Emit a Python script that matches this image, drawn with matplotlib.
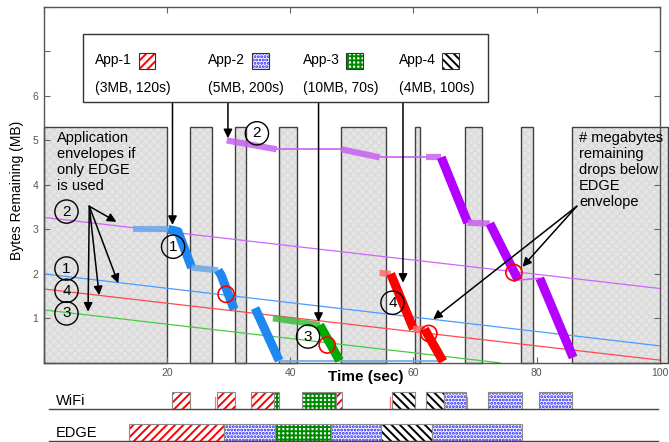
import matplotlib
matplotlib.use('Agg')
import matplotlib.pyplot as plt
import matplotlib.patches as mpatches

plt.rcParams['font.family'] = ['Liberation Sans', 'DejaVu Sans']
plt.rcParams['hatch.linewidth'] = 1.4

# ---- data ----
app_names = ['App-1', 'App-2', 'App-3', 'App-4']
app_sizes = ['(3MB, 120s)', '(5MB, 200s)', '(10MB, 70s)', '(4MB, 100s)']
app_colors = ['#ff0000', '#1a1aff', '#008800', '#000000']
app_hatches = ['////', '.....', '++++', '\\\\\\\\']

# remaining MB over time; kind per segment: w = WiFi burst, e = EDGE trickle, i = idle
app1_t = [14.5, 20.2, 21.8, 24.0, 28.3, 28.8, 30.9, 34.3, 38.2, 64.7]
app1_mb = [3.0, 3.0, 2.95, 2.14, 2.08, 1.97, 1.2, 1.23, 0.05, 0.05]
app1_kind = ['e', 'w', 'w', 'e', 'w', 'w', '', 'w', 'i']

app2_t = [29.7, 37.8, 48.3, 54.5, 62.1, 64.5, 68.8, 72.4, 77.0, 80.5, 85.9]
app2_mb = [5.0, 4.80, 4.80, 4.62, 4.62, 4.62, 3.15, 3.13, 1.86, 1.90, 0.12]
app2_kind = ['e', 'i', 'e', 'i', 'e', 'w', 'e', 'w', 'i', 'w']

app3_t = [37.2, 44.8, 48.0]
app3_mb = [1.0, 0.85, 0.05]
app3_kind = ['e', 'w']

app4_t = [54.5, 56.3, 60.0, 61.8, 64.8]
app4_mb = [2.02, 2.0, 0.76, 0.76, 0.03]
app4_kind = ['e', 'w', 'e', 'w']

# EDGE-only envelopes (start MB at t=0, end MB at env_t1)
env_mb0 = [2.0, 3.27, 1.19, 1.66]
env_mb1 = [0.38, 1.67, 0.0, 0.06]
env_t1 = [100, 100, 74, 100]

# periods without WiFi
gap_start = [0, 23.7, 31.1, 38.2, 48.3, 60.3, 68.4, 77.5, 85.7]
gap_end = [20.0, 27.3, 32.9, 41.1, 55.6, 61.1, 71.1, 79.4, 101.3]
gap_top = 5.3

# points where remaining MB falls below the envelope
drop_t = [29.6, 46.0, 62.5, 76.3]
drop_mb = [1.54, 0.40, 0.66, 2.03]

# numbered tags
tag_t = [3.7, 3.7, 3.7, 3.7, 21.0, 34.6, 42.9, 56.6]
tag_mb = [3.40, 2.12, 1.62, 1.11, 2.61, 5.16, 0.59, 1.35]
tag_txt = ['2', '1', '4', '3', '1', '2', '3', '4']

# schedule on each interface (start, end, app index)
wifi_start = [20.9, 28.2, 33.6, 37.4, 41.9, 47.4, 56.5, 62.0, 64.9, 72.1, 80.3]
wifi_end = [23.8, 31.1, 37.4, 38.2, 47.4, 48.4, 60.3, 64.9, 68.5, 77.6, 85.8]
wifi_app = [0, 0, 0, 2, 2, 0, 3, 3, 1, 1, 1]
wifi_slivers = [27.8, 56.2, 68.7]

edge_start = [13.8, 29.2, 37.5, 46.7, 54.8, 63.0]
edge_end = [29.2, 37.5, 46.7, 54.8, 63.0, 77.6]
edge_app = [0, 1, 2, 1, 3, 1]

trace_dark = ['#1e88f0', '#b400ff', '#00aa00', '#ff0000']
trace_light = ['#6aa8e8', '#c860f0', '#3cbc3c', '#ff6a6a']
env_colors = ['#4a9cff', '#cc66ff', '#44cc44', '#ff4a4a']

fig = plt.figure(figsize=(6.69, 4.42), dpi=100)
ax = fig.add_axes([0.0653, 0.1792, 0.9212, 0.805])
ax.set_xlim(0, 100)
ax.set_ylim(0, 8)

for s, e in zip(gap_start, gap_end):
    ax.add_patch(mpatches.Rectangle((s, 0), e - s, gap_top, facecolor='#e6e6e6',
                                    edgecolor='#dcdcdc', hatch='xxxx', lw=0,
                                    zorder=1, clip_on=False))
    ax.add_patch(mpatches.Rectangle((s, 0), e - s, gap_top, facecolor='none',
                                    edgecolor='#404040', lw=1.0, zorder=1.1,
                                    clip_on=False))

for m0, m1, t1, c in zip(env_mb0, env_mb1, env_t1, env_colors):
    ax.plot([0, t1], [m0, m1], color=c, lw=0.9, zorder=2)


def draw_trace(t, mb, kind, dark, light):
    # group consecutive segments of the same kind so joins look clean
    i = 0
    while i < len(kind):
        j = i
        while j + 1 < len(kind) and kind[j + 1] == kind[i]:
            j += 1
        xs, ys = t[i:j + 2], mb[i:j + 2]
        k = kind[i]
        if k == 'w':
            ax.plot(xs, ys, color=dark, lw=6.5, solid_joinstyle='round',
                    solid_capstyle='butt', zorder=3)
        elif k == 'e':
            ax.plot(xs, ys, color=light, lw=4.5, alpha=0.85,
                    solid_capstyle='butt', zorder=3)
        elif k == 'i':
            ax.plot(xs, ys, color=light, lw=1.2, zorder=3)
        i = j + 1


draw_trace(app1_t, app1_mb, app1_kind, trace_dark[0], trace_light[0])
draw_trace(app2_t, app2_mb, app2_kind, trace_dark[1], trace_light[1])
draw_trace(app3_t, app3_mb, app3_kind, trace_dark[2], trace_light[2])
draw_trace(app4_t, app4_mb, app4_kind, trace_dark[3], trace_light[3])

ax.scatter(drop_t, drop_mb, s=135, facecolor='none', edgecolor='red', lw=1.2, zorder=5)
ax.scatter(tag_t, tag_mb, s=280, facecolor='none', edgecolor='black', lw=1, zorder=5)
for x, y, s in zip(tag_t, tag_mb, tag_txt):
    ax.text(x, y, s, ha='center', va='center', fontsize=11, zorder=6)

# legend box with arrows down to each app's first transfer
ax.add_patch(mpatches.Rectangle((6.4, 5.87), 65.7, 1.53, facecolor='white',
                                edgecolor='#333333', lw=1, zorder=6, clip_on=False))
leg_text_x = [8.3, 26.7, 42.0, 57.6]
for k in range(4):
    x = leg_text_x[k]
    ax.text(x, 6.80, app_names[k], fontsize=10, va='center', zorder=7)
    ax.text(x, 6.18, app_sizes[k], fontsize=10, va='center', zorder=7)
    ax.add_patch(mpatches.Rectangle((x + 7.1, 6.60), 2.7, 0.36, facecolor='white',
                                    edgecolor=app_colors[k], hatch=app_hatches[k],
                                    lw=0, zorder=7))
    ax.add_patch(mpatches.Rectangle((x + 7.1, 6.60), 2.7, 0.36, facecolor='none',
                                    edgecolor='#333333', lw=0.8, zorder=7.1))

leg_arrow_x = [20.9, 29.9, 44.6, 58.3]
leg_arrow_to = [3.1, 5.05, 0.92, 1.8]
for x, y in zip(leg_arrow_x, leg_arrow_to):
    ax.annotate('', xy=(x, y), xytext=(x, 5.87),
                arrowprops=dict(arrowstyle='-|>', color='black', lw=1.1,
                                mutation_scale=13, shrinkA=0, shrinkB=0), zorder=5)

ax.text(2.1, 5.22, 'Application\nenvelopes if\nonly EDGE\nis used', fontsize=10.5,
        va='top', ha='left', linespacing=1.2, zorder=6)
for x, y in [(11.8, 3.17), (12.1, 1.79), (9.0, 1.52), (7.2, 1.15)]:
    ax.annotate('', xy=(x, y), xytext=(7.4, 3.52),
                arrowprops=dict(arrowstyle='-|>', color='black', lw=1.1,
                                mutation_scale=13, shrinkA=0, shrinkB=0), zorder=5)

ax.text(86.9, 5.22, '# megabytes\nremaining\ndrops below\nEDGE\nenvelope', fontsize=10.5,
        va='top', ha='left', linespacing=1.2, zorder=6)
for x, y in [(77.7, 2.16), (63.2, 0.98)]:
    ax.annotate('', xy=(x, y), xytext=(86.5, 3.52),
                arrowprops=dict(arrowstyle='-|>', color='black', lw=1.1,
                                mutation_scale=13, shrinkA=0, shrinkB=0), zorder=5)

ax.set_xticks([0, 20, 40, 60, 80, 100])
ax.set_xticklabels(['', '20', '40', '60', '80', '100'])
ax.set_yticks(range(9))
ax.set_yticklabels(['', '1', '2', '3', '4', '5', '6', '', ''])
ax.tick_params(direction='in', top=True, right=True, length=4, width=0.8,
               labelsize=7.5, colors='#666666', labelcolor='#555555', pad=4)
for sp in ax.spines.values():
    sp.set_color('#555555')
    sp.set_linewidth(1)

ax.text(52.2, -0.33, 'Time (sec)', fontsize=11, fontweight='bold', ha='center', va='center')
fig.text(17 / 669, 1 - 190 / 442, 'Bytes Remaining (MB)', rotation=90,
         ha='center', va='center', fontsize=10)

# interface timelines under the plot
tl = fig.add_axes([0.0653, 0.0, 0.9212, 56 / 442])
tl.set_xlim(0, 100)
tl.set_ylim(0, 56)
tl.axis('off')


def draw_row(starts, ends, apps, y0):
    for s, e, a in zip(starts, ends, apps):
        tl.add_patch(mpatches.Rectangle((s, y0), e - s, 17, facecolor='white',
                                        edgecolor=app_colors[a], hatch=app_hatches[a],
                                        lw=0, clip_on=False))
        tl.add_patch(mpatches.Rectangle((s, y0), e - s, 17, facecolor='none',
                                        edgecolor='#8a8a8a', lw=0.8, clip_on=False))


draw_row(wifi_start, wifi_end, wifi_app, 32.7)
draw_row(edge_start, edge_end, edge_app, 1)
for x in wifi_slivers:
    tl.plot([x, x], [33, 45], color='#ff7070', lw=0.9)

tl.plot([0.86, 99.6], [32.7, 32.7], color='#444444', lw=1, clip_on=False)
tl.plot([0.86, 99.6], [1, 1], color='#444444', lw=1, clip_on=False)
tl.text(2.0, 34.0, 'WiFi', fontsize=10.5, va='bottom', ha='left')
tl.text(2.0, 2.3, 'EDGE', fontsize=10.5, va='bottom', ha='left')

fig.savefig('out.png', dpi=100)
plt.close(fig)
